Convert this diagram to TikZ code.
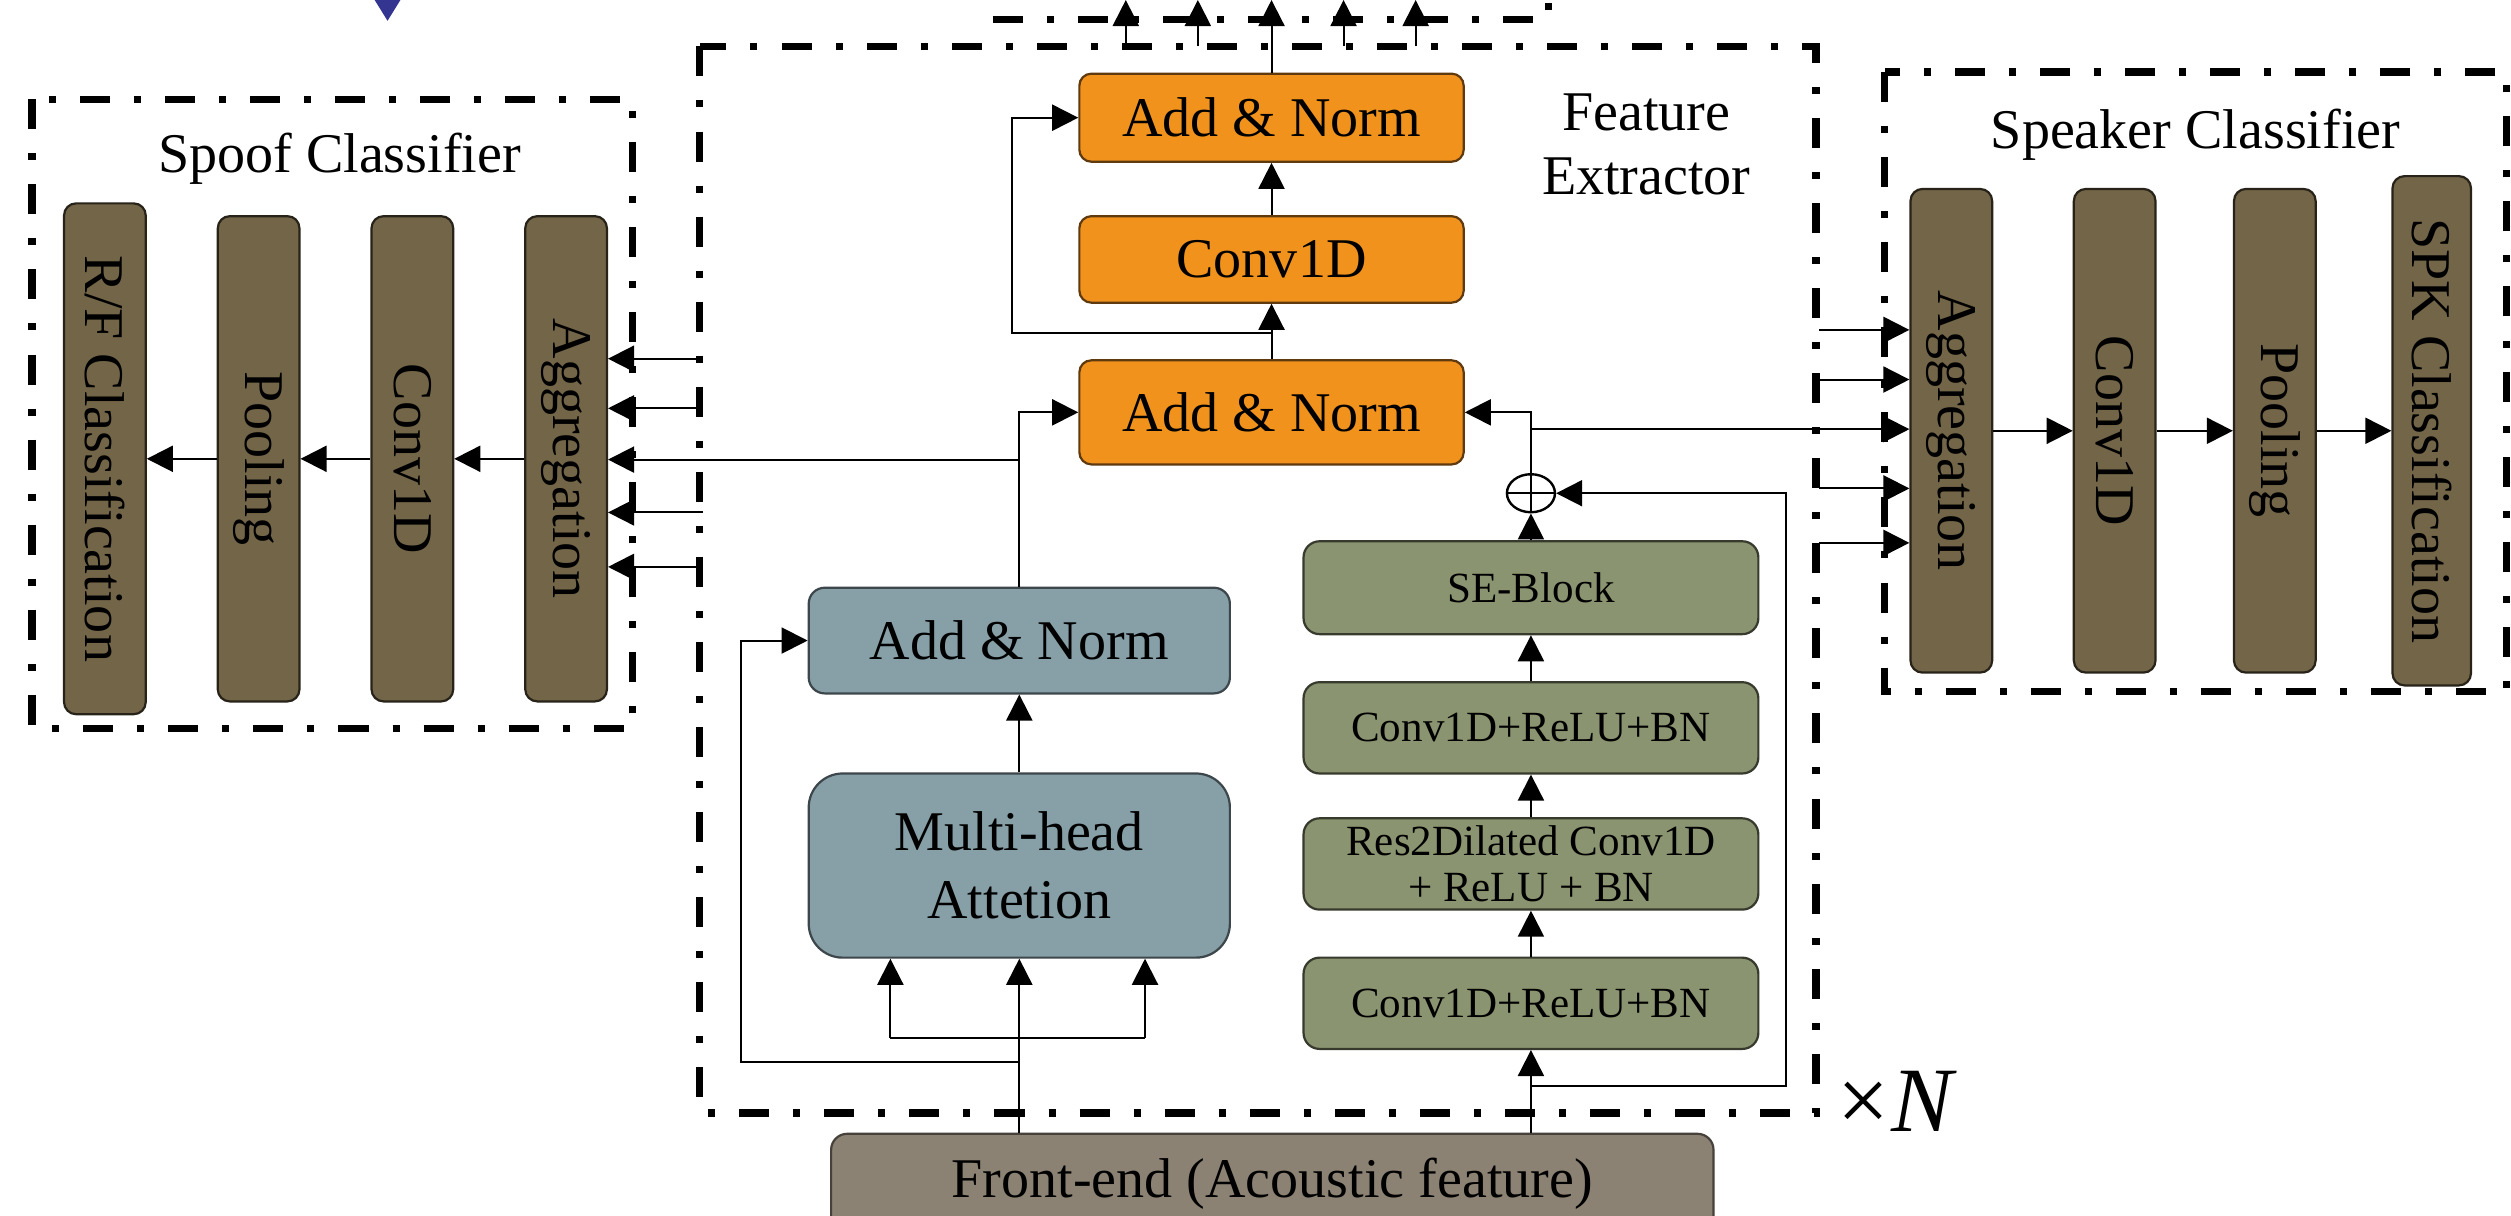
\documentclass[tikz,border=0pt]{standalone}
\usepackage{fontspec}
\setmainfont{Liberation Serif}
\usetikzlibrary{arrows.meta,shapes.geometric}
\definecolor{orF}{RGB}{240,146,28}
\definecolor{orD}{RGB}{95,58,15}
\definecolor{brF}{RGB}{115,101,72}
\definecolor{brD}{RGB}{40,35,25}
\definecolor{grF}{RGB}{138,148,112}
\definecolor{grD}{RGB}{55,58,45}
\definecolor{blF}{RGB}{135,160,168}
\definecolor{blD}{RGB}{60,70,75}
\definecolor{feF}{RGB}{140,130,116}
\definecolor{feD}{RGB}{70,65,58}
\definecolor{navy}{RGB}{52,52,145}
\newcommand\mkbox[7]{%
  \node[#2, minimum width={(#5-#3)*0.8pt}, minimum height={(#6-#4)*0.8pt}] (#1) at ({(#3+#5)/2},{(#4+#6)/2}) {#7};}
\newcommand\mkvbox[7]{%
  \node[#2, rotate=-90, minimum width={(#6-#4)*0.8pt}, minimum height={(#5-#3)*0.8pt}] (#1) at ({(#3+#5)/2},{(#4+#6)/2}) {#7};}
\begin{document}
\begin{tikzpicture}[x=0.8pt,y=-0.8pt,
  base/.style={draw, line width=1.1pt, inner sep=0pt, align=center, font=\fontsize{28}{32}\selectfont},
  ob/.style={base, fill=orF, draw=orD, rounded corners=6pt},
  bb/.style={base, fill=brF, draw=brD, rounded corners=6pt},
  gb/.style={base, fill=grF, draw=grD, rounded corners=8pt, font=\fontsize{21.5}{25}\selectfont},
  lb/.style={base, fill=blF, draw=blD, rounded corners=8pt},
  fb/.style={base, fill=feF, draw=feD, rounded corners=8pt},
  grp/.style={line width=3.6pt, dash pattern=on 15pt off 12pt on 3.5pt off 12pt},
  ar/.style={line width=1pt, -{Triangle[length=13pt,width=13pt]}},
  ln/.style={line width=1pt},
  lbl/.style={inner sep=0pt, align=center, font=\fontsize{28}{32}\selectfont}]
\useasboundingbox (0,0) rectangle (1568,759);
\clip (0,0) rectangle (1568,759);
\fill[white] (0,0) rectangle (1568,759);

% group frames
\draw[grp] (20,62) rectangle (395,455);
\draw[grp] (1177,45) rectangle (1565,432);
\draw[grp] (437,29) rectangle (1134,695);
\draw[grp] (620,12) -- (967,12) -- (967,-30);

% blue marker at the top
\fill[navy] (229,-8) -- (255,-8) -- (242,13) -- cycle;

% labels
\node[lbl, anchor=base] (spoofT) at (212,108) {Spoof Classifier};
\node[lbl, anchor=base] (spkT) at (1371,93) {Speaker Classifier};
\node[lbl] (feL) at (1028,90) {Feature\\Extractor};
\node[inner sep=0pt, font=\fontsize{46}{50}\selectfont] (xN) at (1185,688) {×\kern1pt\textit{N}};

% spoof classifier
\mkvbox{rf}{bb}{40}{127}{91}{446}{R/F Classification}
\mkvbox{poolS}{bb}{136}{135}{187}{438}{Pooling}
\mkvbox{convS}{bb}{232}{135}{283}{438}{Conv1D}
\mkvbox{aggS}{bb}{328}{135}{379}{438}{Aggregation}

% speaker classifier
\mkvbox{aggK}{bb}{1193}{118}{1244}{420}{Aggregation}
\mkvbox{convK}{bb}{1295}{118}{1346}{420}{Conv1D}
\mkvbox{poolK}{bb}{1395}{118}{1446}{420}{Pooling}
\mkvbox{spk}{bb}{1494}{110}{1543}{428}{SPK Classification}

% feature extractor
\mkbox{an2}{ob}{674}{46}{914}{101}{Add \& Norm}
\mkbox{conv}{ob}{674}{135}{914}{189}{Conv1D}
\mkbox{an1}{ob}{674}{225}{914}{290}{Add \& Norm}

\mkbox{anB}{lb}{505}{367}{768}{433}{Add \& Norm}
\mkbox{mha}{lb, rounded corners=17pt}{505}{483}{768}{598}{Multi-head\\[2pt]Attetion}

\mkbox{se}{gb}{814}{338}{1098}{396}{SE-Block}
\mkbox{c2}{gb}{814}{426}{1098}{483}{Conv1D+ReLU+BN}
\mkbox{res}{gb}{814}{511}{1098}{568}{Res2Dilated Conv1D\\[-2pt]+ ReLU + BN}
\mkbox{c1}{gb}{814}{598}{1098}{655}{Conv1D+ReLU+BN}

\node[ellipse, draw, line width=1.2pt, inner sep=0pt, minimum width=24pt, minimum height=19pt] (plus) at (956,308) {};
\draw[ln] (plus.west) -- (plus.east);
\draw[ln] (plus.south) -- (plus.north);

\mkbox{fe}{fb}{519}{708}{1070}{770}{Front-end (Acoustic feature)}

% ---- connectors ----
% spoof chain
\draw[ar] (aggS.south) -- (convS.north);
\draw[ar] (convS.south) -- (poolS.north);
\draw[ar] (poolS.south) -- (rf.north);
% speaker chain
\draw[ar] (aggK.north) -- (convK.south);
\draw[ar] (convK.north) -- (poolK.south);
\draw[ar] (poolK.north) -- (spk.south);

% attention branch
\coordinate (q1) at (556,648);
\coordinate (q2) at (715,648);
\coordinate (rb) at (463,663);
\draw[ar] (mha.south |- fe.north) -- (mha.south);
\draw[ln] (q1) -- (q2);
\draw[ar] (q1) -- (q1 |- mha.south);
\draw[ar] (q2) -- (q2 |- mha.south);
\draw[ar] (mha.south |- rb) -- (rb) |- (anB.west);
\draw[ar] (mha.north) -- (anB.south);
\draw[ar] (anB.north) |- (an1.west);

% to spoof aggregation
\coordinate (spc) at (636.5,287);
\draw[ar] (spc) -- (spc -| aggS.north);
\foreach \yy/\nm in {224/a,255/b,320/d,354/e}{
  \coordinate (sp\nm) at (439,\yy);
  \draw[ar] (sp\nm) -- (sp\nm -| aggS.north);
}

% ECAPA branch
\coordinate (sk) at (1115,678);
\draw[ar] (c1.south |- fe.north) -- (c1.south);
\draw[ar] (c1.north) -- (res.south);
\draw[ar] (res.north) -- (c2.south);
\draw[ar] (c2.north) -- (se.south);
\draw[ar] (se.north) -- (plus.south);
\draw[ar] (c1.south |- sk) -- (sk) |- (plus.east);
\draw[ar] (plus.north) |- (an1.east);

% to speaker aggregation
\coordinate (skc) at (956,268);
\draw[ar] (skc) -- (skc -| aggK.south);
\foreach \yy/\nm in {206/a,237/b,305/d,339/e}{
  \coordinate (sr\nm) at (1136,\yy);
  \draw[ar] (sr\nm) -- (sr\nm -| aggK.south);
}

% conv block
\coordinate (ro) at (632,208);
\draw[ar] (an1.north) -- (conv.south);
\draw[ar] (an1.north |- ro) -- (ro) |- (an2.west);
\draw[ar] (conv.north) -- (an2.south);

% outputs at the top
\coordinate (tc) at (794,0);
\draw[ar] (an2.north) -- (an2.north |- tc);
\foreach \xx/\nm in {703/a,748/b,839/d,884/e}{
  \coordinate (tb\nm) at (\xx,29);
  \coordinate (tt\nm) at (\xx,0);
  \draw[ar] (tb\nm) -- (tt\nm);
}
\end{tikzpicture}
\end{document}
